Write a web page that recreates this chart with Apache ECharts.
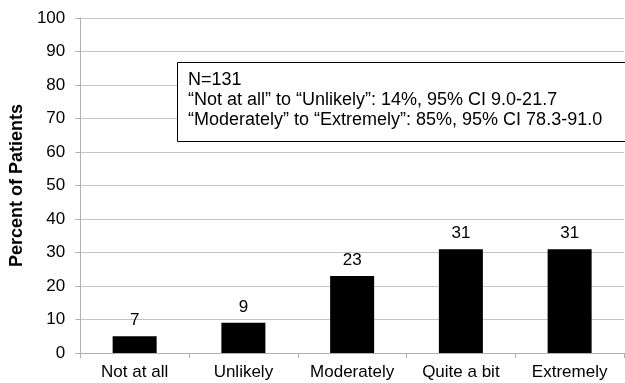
<!DOCTYPE html>
<html><head><meta charset="utf-8">
<script src="https://cdn.jsdelivr.net/npm/echarts@6/dist/echarts.min.js"></script>
<style>html,body{margin:0;padding:0;background:#fff}#c{width:625px;height:383px}</style>
</head><body><div id="c"></div>
<script>
const categories = ["Not at all", "Unlikely", "Moderately", "Quite a bit", "Extremely"];
const percentValues = [5, 9, 23, 31, 31];
const barLabels = ["7", "9", "23", "31", "31"];
const yTicks = [0, 10, 20, 30, 40, 50, 60, 70, 80, 90, 100];
const noteLines = [
  "N=131",
  "\u201cNot at all\u201d to \u201cUnlikely\u201d: 14%, 95% CI 9.0-21.7",
  "\u201cModerately\u201d to \u201cExtremely\u201d: 85%, 95% CI 78.3-91.0"
];
const FONT = "Liberation Sans, Arial, sans-serif";
const chart = echarts.init(document.getElementById('c'), null, {renderer: 'canvas'});
chart.setOption({
  animation: false,
  grid: {left: 77, right: 1, top: 18, bottom: 30, containLabel: false},
  xAxis: {
    type: 'category', data: categories,
    axisLine: {lineStyle: {color: '#b0b0b0'}},
    axisTick: {show: true, length: 5, lineStyle: {color: '#b0b0b0'}},
    axisLabel: {color: '#000', fontFamily: FONT, fontSize: 17, margin: 11, interval: 0}
  },
  yAxis: {
    type: 'value', min: yTicks[0], max: yTicks[yTicks.length - 1], interval: 10,
    name: 'Percent of Patients', nameLocation: 'middle', nameGap: 50,
    nameTextStyle: {color: '#000', fontFamily: FONT, fontSize: 18, fontWeight: 'bold'},
    axisLine: {show: true, lineStyle: {color: '#b0b0b0'}},
    axisTick: {show: true, length: 5, lineStyle: {color: '#b0b0b0'}},
    axisLabel: {color: '#000', fontFamily: FONT, fontSize: 17, margin: 15},
    splitLine: {lineStyle: {color: '#c4c4c4'}}
  },
  series: [{
    type: 'bar',
    data: percentValues,
    barWidth: 44,
    itemStyle: {color: '#000'},
    label: {
      show: true, position: 'top', distance: 7, color: '#000',
      fontFamily: FONT, fontSize: 17,
      formatter: p => barLabels[p.dataIndex]
    }
  }],
  graphic: [
    {type: 'rect', z: 100, shape: {x: 177.5, y: 62.5, width: 470, height: 79},
     style: {fill: '#ffffff', stroke: '#000', lineWidth: 1}},
    {type: 'text', z: 101, x: 188, y: 80, style: {text: noteLines[0], font: '18px ' + FONT, fill: '#000', verticalAlign: 'middle'}},
    {type: 'text', z: 101, x: 188, y: 100, style: {text: noteLines[1], font: '18px ' + FONT, fill: '#000', verticalAlign: 'middle'}},
    {type: 'text', z: 101, x: 188, y: 120, style: {text: noteLines[2], font: '18px ' + FONT, fill: '#000', verticalAlign: 'middle'}}
  ]
});
</script></body></html>
